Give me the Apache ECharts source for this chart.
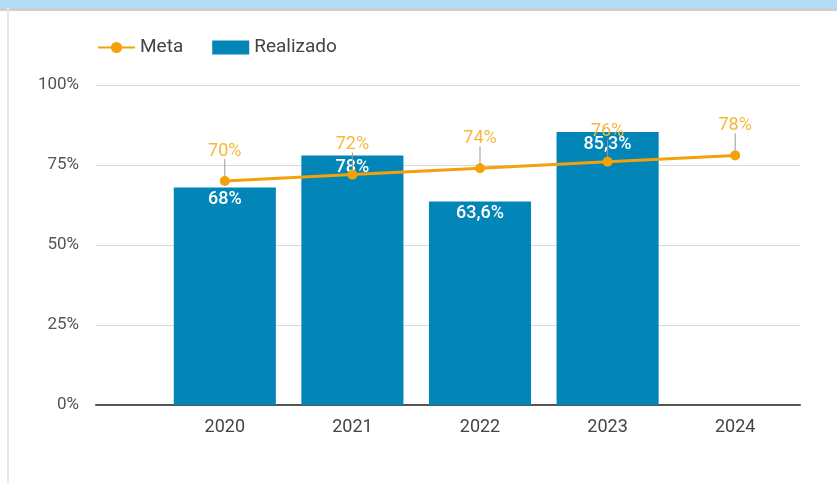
<!DOCTYPE html>
<html>
<head>
<meta charset="utf-8">
<script src="https://cdn.jsdelivr.net/npm/echarts@6/dist/echarts.min.js"></script>
<style>
  html, body { margin: 0; padding: 0; background: #fff; }
  #chart { width: 837px; height: 483px; }
</style>
</head>
<body>
<div id="chart"></div>
<script>
const years = ['2020', '2021', '2022', '2023', '2024'];
const meta = [70, 72, 74, 76, 78];
const realizado = [68, 78, 63.6, 85.3, null];
const yTicks = [0, 25, 50, 75, 100];

const chart = echarts.init(document.getElementById('chart'), null, { renderer: 'canvas' });

function pct(v) {
  return String(v).replace('.', ',') + '%';
}

const option = {
  animation: false,
  textStyle: { fontFamily: 'Roboto' },
  graphic: [
    // frame: blue header strip + left border
    { type: 'rect', shape: { x: 0, y: 0, width: 837, height: 8 }, style: { fill: '#b4dcf8' }, silent: true },
    { type: 'rect', shape: { x: 0, y: 8, width: 837, height: 3 }, style: { fill: '#cfcfcf' }, silent: true },
    { type: 'rect', shape: { x: 7, y: 8, width: 2, height: 475 }, style: { fill: '#e6e6e6' }, silent: true },
  ],
  legend: {
    left: 92,
    top: 33,
    itemWidth: 37,
    itemHeight: 14,
    itemGap: 29,
    textStyle: { fontSize: 19, color: '#444', fontFamily: 'Roboto' },
    data: [{ name: 'Meta' }, { name: 'Realizado', icon: 'rect' }],
  },
  grid: [
    { left: 96, right: 37, top: 85, bottom: 78 },
    { left: 161, right: 38, top: 85, bottom: 78 },
  ],
  xAxis: [
    {
      gridIndex: 0,
      type: 'category',
      data: [''],
      axisLine: { show: true, lineStyle: { color: '#555', width: 2 } },
      axisTick: { show: false },
      axisLabel: { show: false },
    },
    {
      gridIndex: 1,
      type: 'category',
      data: years,
      axisLine: { show: false },
      axisTick: { show: false },
      axisLabel: { fontSize: 18, color: '#444', margin: 13 },
    },
  ],
  yAxis: [
    {
      gridIndex: 0,
      type: 'value',
      min: yTicks[0],
      max: yTicks[yTicks.length - 1],
      interval: 25,
      axisLine: { show: false },
      axisTick: { show: false },
      axisLabel: { fontSize: 17, color: '#555', margin: 17, formatter: '{value}%' },
      splitLine: { lineStyle: { color: '#d9d9d9', width: 1 } },
    },
    {
      gridIndex: 1,
      type: 'value',
      min: 0,
      max: 100,
      show: false,
      splitLine: { show: false },
    },
  ],
  series: [
    {
      name: 'Realizado',
      type: 'bar',
      xAxisIndex: 1,
      yAxisIndex: 1,
      barWidth: '80%',
      itemStyle: { color: '#0285b7' },
      data: realizado,
      label: {
        show: true,
        position: 'insideTop',
        distance: 3,
        color: '#fff',
        fontSize: 18,
        fontWeight: 500,
        formatter: (p) => pct(p.value),
      },
      z: 2,
    },
    {
      // annotation stems above the Meta points
      type: 'custom',
      xAxisIndex: 1,
      yAxisIndex: 1,
      data: years.map((y, i) => [i, meta[i]]),
      renderItem: function (params, api) {
        const p = api.coord([api.value(0), api.value(1)]);
        return {
          type: 'line',
          shape: { x1: p[0], y1: p[1] - 4, x2: p[0], y2: p[1] - 22 },
          style: { stroke: '#999', lineWidth: 1 },
        };
      },
      silent: true,
      z: 3,
    },
    {
      name: 'Meta',
      type: 'line',
      xAxisIndex: 1,
      yAxisIndex: 1,
      data: meta,
      symbol: 'circle',
      symbolSize: 10,
      lineStyle: { color: '#f4a10b', width: 3 },
      itemStyle: { color: '#f4a10b' },
      label: {
        show: true,
        position: 'top',
        distance: 16,
        color: '#f6b73c',
        fontSize: 18,
        formatter: (p) => p.value + '%',
      },
      z: 4,
    },
  ],
};

chart.setOption(option);
</script>
</body>
</html>
